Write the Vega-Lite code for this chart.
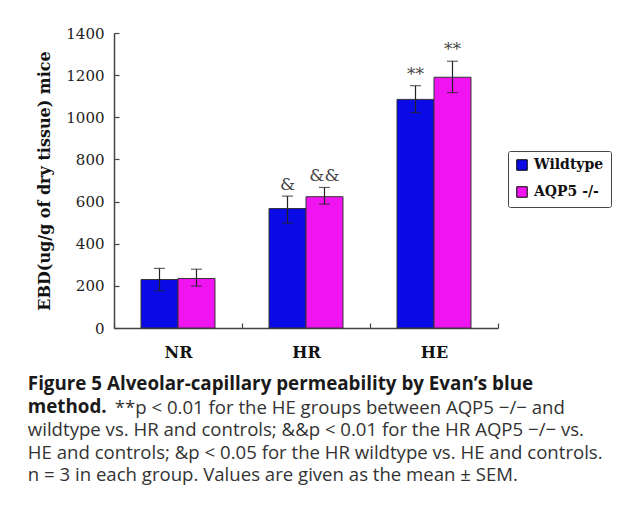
{
  "$schema": "https://vega.github.io/schema/vega-lite/v6.json",
  "width": 384,
  "height": 295,
  "autosize": {"type": "pad"},
  "padding": {"left": 27, "top": 26, "right": 5, "bottom": 5},
  "background": "white",
  "config": {"view": {"stroke": null}},
  "title": {
    "text": ["Figure 5 Alveolar-capillary permeability by Evan’s blue", "method."],
    "subtitle": [
      "\u200b\u00a0\u00a0\u00a0\u00a0\u00a0\u00a0\u00a0\u00a0\u00a0\u00a0\u00a0\u00a0\u00a0\u00a0\u00a0\u00a0\u00a0\u00a0**p < 0.01 for the HE groups between AQP5 −/− and",
      "wildtype vs. HR and controls; &&p < 0.01 for the HR AQP5 −/− vs.",
      "HE and controls; &p < 0.05 for the HR wildtype vs. HE and controls.",
      "n = 3 in each group. Values are given as the mean ± SEM."
    ],
    "orient": "bottom",
    "anchor": "start",
    "frame": "bounds",
    "offset": 15,
    "dx": -9,
    "font": "Open Sans",
    "fontSize": 18.8,
    "fontWeight": "bold",
    "lineHeight": 22.5,
    "color": "#1a1a1a",
    "subtitleFont": "Open Sans",
    "subtitleFontSize": 18.6,
    "subtitleFontWeight": "normal",
    "subtitleLineHeight": 22.5,
    "subtitleColor": "#333333",
    "subtitlePadding": -17.5
  },
  "data": {
    "values": [
      {"group": "NR", "type": "Wildtype", "mean": 230, "lo": 177, "hi": 283, "sig": ""},
      {"group": "NR", "type": "AQP5 -/-", "mean": 235, "lo": 199, "hi": 279, "sig": ""},
      {"group": "HR", "type": "Wildtype", "mean": 567, "lo": 498, "hi": 626, "sig": "&"},
      {"group": "HR", "type": "AQP5 -/-", "mean": 623, "lo": 588, "hi": 667, "sig": "&&"},
      {"group": "HE", "type": "Wildtype", "mean": 1085, "lo": 1022, "hi": 1150, "sig": "**"},
      {"group": "HE", "type": "AQP5 -/-", "mean": 1190, "lo": 1117, "hi": 1266, "sig": "**"}
    ]
  },
  "encoding": {
    "x": {
      "field": "group",
      "type": "nominal",
      "sort": ["NR", "HR", "HE"],
      "scale": {"paddingInner": 0, "paddingOuter": 0},
      "axis": {
        "title": null,
        "labelAngle": 0,
        "labelFont": "DejaVu Serif",
        "labelFontWeight": "bold",
        "labelFontSize": 16,
        "labelColor": "#111",
        "labelPadding": 21,
        "tickBand": "extent",
        "tickSize": -5,
        "tickColor": "#444",
        "tickWidth": 1.2,
        "domainColor": "#444",
        "domainWidth": 1.5
      }
    },
    "xOffset": {
      "field": "type",
      "type": "nominal",
      "sort": ["Wildtype", "AQP5 -/-"],
      "scale": {"paddingInner": 0, "paddingOuter": 0.73}
    }
  },
  "layer": [
    {
      "mark": {"type": "bar", "stroke": "#333", "strokeWidth": 1},
      "encoding": {
        "y": {
          "field": "mean",
          "type": "quantitative",
          "scale": {"domain": [0, 1400], "nice": false},
          "axis": {
            "title": "EBD(ug/g of dry tissue) mice",
            "titleFont": "DejaVu Serif",
            "titleFontWeight": "bold",
            "titleFontSize": 16,
            "titleColor": "#111",
            "titlePadding": 13,
            "values": [0, 200, 400, 600, 800, 1000, 1200, 1400],
            "format": "d",
            "grid": false,
            "labelFont": "DejaVu Serif",
            "labelFontSize": 15,
            "labelColor": "#222",
            "labelPadding": 15,
            "tickSize": -5,
            "tickColor": "#444",
            "tickWidth": 1.2,
            "domainColor": "#444",
            "domainWidth": 1.5
          }
        },
        "color": {
          "field": "type",
          "type": "nominal",
          "sort": ["Wildtype", "AQP5 -/-"],
          "scale": {"domain": ["Wildtype", "AQP5 -/-"], "range": ["#0a0ae6", "#f014f0"]},
          "legend": {
            "title": null,
            "orient": "none",
            "legendX": 394,
            "legendY": 118,
            "symbolType": "square",
            "symbolSize": 110,
            "symbolStrokeColor": "#000",
            "symbolStrokeWidth": 1,
            "labelFont": "DejaVu Serif",
            "labelFontWeight": "bold",
            "labelFontSize": 14,
            "labelColor": "#111",
            "labelOffset": 5,
            "padding": 7,
            "rowPadding": 11,
            "strokeColor": "#444",
            "fillColor": "white",
            "cornerRadius": 2
          }
        }
      }
    },
    {
      "mark": {"type": "rule", "color": "#222", "strokeWidth": 1.2},
      "encoding": {
        "y": {"field": "lo", "type": "quantitative"},
        "y2": {"field": "hi"}
      }
    },
    {
      "mark": {"type": "tick", "color": "#222", "size": 11, "thickness": 1.2},
      "encoding": {"y": {"field": "hi", "type": "quantitative"}}
    },
    {
      "mark": {"type": "tick", "color": "#222", "size": 11, "thickness": 1.2},
      "encoding": {"y": {"field": "lo", "type": "quantitative"}}
    },
    {
      "mark": {"type": "text", "font": "DejaVu Serif", "fontSize": 17, "color": "#444", "baseline": "bottom", "dy": -2},
      "encoding": {
        "y": {"field": "hi", "type": "quantitative"},
        "text": {"field": "sig"}
      }
    }
  ]
}
